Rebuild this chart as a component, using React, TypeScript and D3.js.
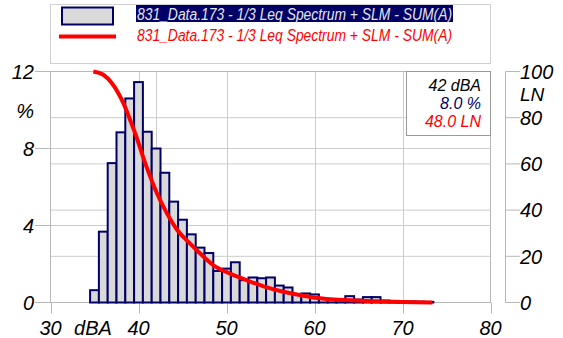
import React, { useEffect, useRef } from "react";
import * as d3 from "d3";

// histogram bins (dBA, 1 dB wide) and their share of time in %
const levels = [
	35, 36, 37, 38, 39, 40, 41, 42, 43, 44, 45, 46, 47, 48, 49, 50, 51, 52, 53,
	54, 55, 56, 57, 58, 59, 60, 61, 62, 63, 64, 65, 66, 67, 68, 69, 70, 71, 72, 73,
];
const percents = [
	0.64, 3.68, 7.24, 8.84, 10.6, 11.45, 8.87, 8.0, 6.74, 5.24, 4.3, 3.54, 2.85,
	2.57, 1.64, 1.76, 2.09, 1.16, 1.3, 1.26, 1.3, 0.88, 0.78, 0.43, 0.47, 0.42,
	0.2, 0.15, 0.15, 0.33, 0.15, 0.28, 0.28, 0.1, 0.08, 0.05, 0.05, 0.04, 0.03,
];

// LN exceedance curve (dBA -> LN)
const lnLevels = [
	34.87, 36.0, 36.96, 37.71, 38.28, 39.04, 39.81, 40.56, 41.32, 42.08, 43.22,
	44.36, 45.87, 47.01, 48.52, 50.41, 52.32, 54.21, 56.11, 58.01, 59.52, 62.17,
	65.97, 69.76, 73.4,
];
const lnValues = [
	100, 98.6, 95.0, 90.6, 86.3, 79.1, 71.2, 62.5, 54.6, 47.4, 38.7, 31.6, 25.5,
	21.2, 16.1, 12.5, 9.6, 7.0, 5.0, 3.5, 2.4, 1.3, 0.7, 0.26, 0,
];

const xTicks = [30, 40, 50, 60, 70, 80];
const pctTicks = [0, 4, 8, 12];
const lnTicks = [0, 20, 40, 60, 80, 100];

const legendLabel = "831_Data.173 - 1/3 Leq Spectrum + SLM - SUM(A)";
const cursorLevel = 42;
const cursorLines = ["42 dBA", "8.0 %", "48.0 LN"];

const FONT = "'Liberation Sans', Arial, sans-serif";
const NAVY = "#000066";
const GRID = "#cccccc";

const App = () => {
	const svgRef = useRef(null);

	useEffect(() => {
		document.body.style.margin = "0";
		const svg = d3.select(svgRef.current);
		svg.selectAll("*").remove();

		const left = 50.5;
		const right = 490.5;
		const top = 71.5;
		const bottom = 302.5;

		const x = d3.scaleLinear().domain([30, 80]).range([left, right]);
		const yPct = d3.scaleLinear().domain([0, 12]).range([bottom, top]);
		const yLn = d3.scaleLinear().domain([0, 100]).range([bottom, top]);

		// legend
		const legend = svg.append("g");
		legend
			.append("rect")
			.attr("x", left)
			.attr("y", 4.5)
			.attr("width", right - left)
			.attr("height", 59)
			.attr("fill", "#fff")
			.attr("stroke", "#d0d0d0");
		legend
			.append("rect")
			.attr("x", 62)
			.attr("y", 7.5)
			.attr("width", 51)
			.attr("height", 17)
			.attr("fill", "#dadada")
			.attr("stroke", NAVY)
			.attr("stroke-width", 2);
		legend
			.append("rect")
			.attr("x", 136)
			.attr("y", 5)
			.attr("width", 317)
			.attr("height", 17)
			.attr("fill", NAVY);
		legend
			.append("text")
			.attr("x", 137)
			.attr("y", 20)
			.attr("textLength", 315)
			.attr("lengthAdjust", "spacingAndGlyphs")
			.attr("fill", "#e6e6e6")
			.text(legendLabel);
		legend
			.append("line")
			.attr("x1", 59)
			.attr("x2", 116)
			.attr("y1", 36.5)
			.attr("y2", 36.5)
			.attr("stroke", "#ff0000")
			.attr("stroke-width", 4);
		legend
			.append("text")
			.attr("x", 137)
			.attr("y", 41)
			.attr("textLength", 315)
			.attr("lengthAdjust", "spacingAndGlyphs")
			.attr("fill", "#ff0000")
			.text(legendLabel);
		legend
			.selectAll("text")
			.attr("font-family", FONT)
			.attr("font-style", "italic")
			.attr("font-size", 16);

		// grid
		const grid = svg.append("g").attr("stroke", GRID).attr("stroke-width", 1);
		grid
			.selectAll(".hp")
			.data(pctTicks.slice(1, -1))
			.enter()
			.append("line")
			.attr("x1", left)
			.attr("x2", right)
			.attr("y1", (d) => yPct(d))
			.attr("y2", (d) => yPct(d));
		grid
			.selectAll(".hl")
			.data(lnTicks.slice(1, -1))
			.enter()
			.append("line")
			.attr("x1", left)
			.attr("x2", right)
			.attr("y1", (d) => yLn(d))
			.attr("y2", (d) => yLn(d));
		grid
			.selectAll(".v")
			.data(xTicks.slice(1, -1).concat([cursorLevel]))
			.enter()
			.append("line")
			.attr("x1", (d) => Math.round(x(d)) + 0.5)
			.attr("x2", (d) => Math.round(x(d)) + 0.5)
			.attr("y1", top)
			.attr("y2", bottom);

		// frame + ticks
		const axes = svg.append("g").attr("stroke", "#b8b8b8").attr("fill", "none");
		axes
			.append("rect")
			.attr("x", left)
			.attr("y", top)
			.attr("width", right - left)
			.attr("height", bottom - top);
		axes
			.selectAll(".xt")
			.data(xTicks)
			.enter()
			.append("line")
			.attr("x1", (d) => Math.round(x(d)) + 0.5)
			.attr("x2", (d) => Math.round(x(d)) + 0.5)
			.attr("y1", bottom)
			.attr("y2", bottom + 11);
		axes
			.selectAll(".yt")
			.data(pctTicks)
			.enter()
			.append("line")
			.attr("x1", 35)
			.attr("x2", left)
			.attr("y1", (d) => yPct(d))
			.attr("y2", (d) => yPct(d));
		axes
			.append("line")
			.attr("x1", 505.5)
			.attr("x2", 505.5)
			.attr("y1", top)
			.attr("y2", bottom);
		axes
			.selectAll(".rt")
			.data(lnTicks)
			.enter()
			.append("line")
			.attr("x1", 505.5)
			.attr("x2", 520)
			.attr("y1", (d) => yLn(d))
			.attr("y2", (d) => yLn(d));

		// bars
		svg
			.append("g")
			.selectAll("rect")
			.data(levels)
			.enter()
			.append("rect")
			.attr("x", (d) => x(d - 0.5))
			.attr("width", (d) => x(d + 0.5) - x(d - 0.5))
			.attr("y", (d, i) => yPct(percents[i]))
			.attr("height", (d, i) => bottom - yPct(percents[i]))
			.attr("fill", "#d9d9d9")
			.attr("stroke", NAVY)
			.attr("stroke-width", 2);

		// LN curve
		const line = d3
			.line()
			.x((d) => x(d[0]))
			.y((d) => yLn(d[1]))
			.curve(d3.curveMonotoneX);
		svg
			.append("path")
			.datum(lnLevels.map((l, i) => [l, lnValues[i]]))
			.attr("d", line)
			.attr("fill", "none")
			.attr("stroke", "#ff0000")
			.attr("stroke-width", 4)
			.attr("stroke-linejoin", "round");

		// cursor readout
		const box = svg.append("g");
		box
			.append("rect")
			.attr("x", 406.5)
			.attr("y", top)
			.attr("width", right - 406.5)
			.attr("height", 64)
			.attr("fill", "#fff")
			.attr("stroke", "#999");
		box
			.selectAll("text")
			.data(cursorLines)
			.enter()
			.append("text")
			.attr("x", 481)
			.attr("y", (d, i) => 90.5 + i * 18.3)
			.attr("text-anchor", "end")
			.attr("font-family", FONT)
			.attr("font-style", "italic")
			.attr("font-size", 16)
			.attr("fill", (d, i) => ["#000", NAVY, "#ff0000"][i])
			.text((d) => d);

		// tick labels
		const labels = svg
			.append("g")
			.attr("font-family", FONT)
			.attr("font-style", "italic")
			.attr("font-size", 20)
			.attr("fill", "#000");
		labels
			.selectAll(".xl")
			.data(xTicks)
			.enter()
			.append("text")
			.attr("x", (d) => x(d))
			.attr("y", 335)
			.attr("text-anchor", "middle")
			.text((d) => d);
		labels
			.append("text")
			.attr("x", 93)
			.attr("y", 335)
			.attr("text-anchor", "middle")
			.text("dBA");
		labels
			.selectAll(".yl")
			.data(pctTicks)
			.enter()
			.append("text")
			.attr("x", 34)
			.attr("y", (d) => yPct(d))
			.attr("dy", "0.36em")
			.attr("text-anchor", "end")
			.text((d) => d);
		labels
			.append("text")
			.attr("x", 34)
			.attr("y", 111)
			.attr("dy", "0.36em")
			.attr("text-anchor", "end")
			.text("%");
		labels
			.selectAll(".rl")
			.data(lnTicks)
			.enter()
			.append("text")
			.attr("x", 520)
			.attr("y", (d) => yLn(d))
			.attr("dy", "0.36em")
			.text((d) => d);
		labels
			.append("text")
			.attr("x", 520)
			.attr("y", 94)
			.attr("dy", "0.36em")
			.attr("font-size", 19)
			.text("LN");
	}, []);

	return (
		<svg
			ref={svgRef}
			width="563"
			height="338"
			style={{ display: "block", background: "#fff" }}
		></svg>
	);
};

export default App;
